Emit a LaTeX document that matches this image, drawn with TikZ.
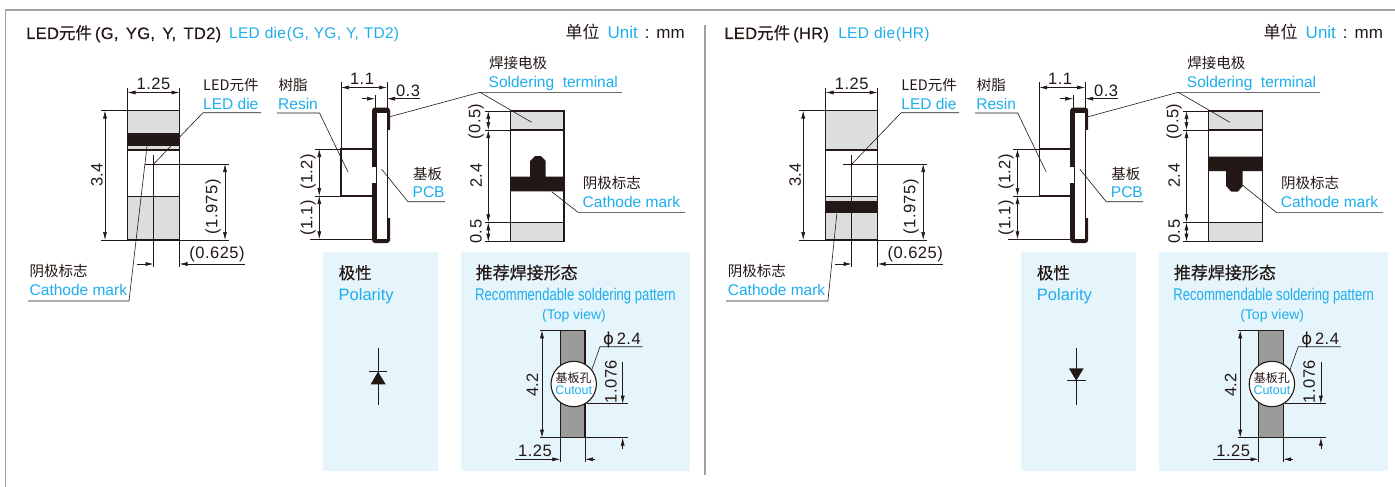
\documentclass[tikz,border=0pt]{standalone}
\usepackage{fontspec}
\usepackage{graphicx}
\usetikzlibrary{arrows.meta}
\setmainfont{Liberation Sans}
\newfontfamily\cjk{Noto Sans CJK SC}
\newfontfamily\cjkm[FakeBold=0.25]{Noto Sans CJK SC}
\newfontfamily\latm[FakeBold=0.25,LetterSpace=2,WordSpace=1.5]{Liberation Sans}
\newfontfamily\bluef[LetterSpace=1.5,WordSpace=1.1]{Liberation Sans}
\newfontfamily\numf[LetterSpace=3]{Liberation Sans}
\newfontfamily\phif{DejaVu Sans}
\definecolor{ink}{HTML}{231815}
\definecolor{sky}{HTML}{1DAEEC}
\definecolor{pale}{HTML}{E6F4FC}
\definecolor{pad}{HTML}{DCDDDD}
\definecolor{hole}{HTML}{9A9B9B}
\definecolor{rule}{HTML}{9FA0A0}
\newcommand\fsz[1]{\fontsize{#1}{#1}\selectfont}
\tikzset{
  x=1pt,y=-1pt,
  thin line/.style={draw=ink,line width=.6pt},
  body/.style={draw=ink,line width=1.1pt},
  dim/.style={thin line,{Latex[length=8pt,width=4pt]}-{Latex[length=8pt,width=4pt]}},
  dimend/.style={thin line,-{Latex[length=8pt,width=4pt]}},
  cnlab/.style={anchor=base west,inner sep=0,text=ink,font=\cjk\fsz{14.5}},
  enlab/.style={anchor=base west,inner sep=0,text=sky,font=\fsz{15.5}},
  num/.style={inner sep=0,text=ink,font=\numf\fsz{16.5}},
  vnum/.style={num,rotate=90},
}
% #1 title, #2 first-view fills, #3 third-view mark, #4 diode, #5 cathode leader of first view, #6 leader end of third view
\newcommand\ledpanel[6]{
  #1
  \node[anchor=base east,inner sep=0,text=ink,font=\fsz{17}] (unit) at (685,39) {{\cjk 单位}\hspace{8pt}\textcolor{sky}{Unit}\hspace{7pt}:\hspace{7pt}mm};
  % first view
  \fill[pad] (127.5,110.5) rectangle (179.5,150);
  \fill[pad] (127.5,196.5) rectangle (179.5,240);
  #2
  \draw[body] (127.5,110.5) rectangle (179.5,240);
  \draw[body] (127.5,150) -- (179.5,150);
  \draw[body] (127.5,196.5) -- (179.5,196.5);
  \draw[thin line] (101,110.5) -- (127.5,110.5);
  \draw[thin line] (101,240) -- (229,240);
  \draw[thin line] (145,164) -- (229,164);
  \draw[thin line] (153.5,155) -- (153.5,267);
  \draw[thin line] (179.5,240) -- (179.5,267);
  \draw[thin line] (127.5,88) -- (127.5,110.5);
  \draw[thin line] (179.5,88) -- (179.5,110.5);
  \draw[dim] (127.5,92.5) -- (179.5,92.5);
  \draw[dim] (105,110.5) -- (105,240);
  \draw[dim] (225,164) -- (225,240);
  \draw[dimend] (137,264) -- (153.5,264);
  \draw[dimend] (245,264) -- (179.5,264);
  \node[num] (w1) at (153.5,84) {1.25};
  \node[vnum] (h1) at (97,175) {3.4};
  \node[vnum] (p1) at (213,207) {(1.975)};
  \node[num] (o1) at (217,254) {(0.625)};
  \node[cnlab] (die-cn) at (203,90.7) {LED元件};
  \node[enlab] (die-en) at (203,109.3) {LED die};
  \draw[thin line] (261,112.7) -- (203,112.7) -- (153.7,164);
  \node[cnlab] (cm1-cn) at (29.5,276.7) {阴极标志};
  \node[enlab] (cm1-en) at (29.5,295) {Cathode mark};
  #5
  % side view
  \draw[body] (372,149) -- (341,149) -- (341,196) -- (372,196);
  \fill[ink,rounded corners=3pt] (372,107.5) rectangle (390,243);
  \fill[white] (377,112.5) rectangle (387,238.5);
  \fill[white] (387,130) rectangle (391,218);
  \fill[white] (371,167) rectangle (376.5,183);
  \draw[body] (387.3,130) -- (387.3,218);
  \draw[body] (376.7,167) -- (376.7,183);
  \draw[thin line] (341,82) -- (341,149);
  \draw[thin line] (387,82) -- (387,107.5);
  \draw[thin line] (375,95) -- (375,107.5);
  \draw[thin line] (315,149) -- (372,149);
  \draw[thin line] (315,196) -- (341,196);
  \draw[thin line] (310,239.3) -- (372,239.3);
  \draw[dim] (341,87.5) -- (387,87.5);
  \draw[dimend] (362,98.7) -- (375,98.7);
  \draw[dimend] (420,98.7) -- (387,98.7);
  \draw[dim] (319.3,149) -- (319.3,196);
  \draw[dim] (319.3,196) -- (319.3,239.3);
  \node[num] (w2) at (362,79) {1.1};
  \node[num] (w3) at (408,91) {0.3};
  \node[vnum] (h2) at (308,172) {(1.2)};
  \node[vnum] (h3) at (308,218) {(1.1)};
  \node[cnlab] (res-cn) at (278.5,90.7) {树脂};
  \node[enlab] (res-en) at (278,109.3) {Resin};
  \draw[thin line] (277,113) -- (319.5,113) -- (348,172);
  \node[cnlab] (pcb-cn) at (413,179.5) {基板};
  \node[enlab] (pcb-en) at (412.5,197.5) {PCB};
  \draw[thin line] (445,201.7) -- (408,201.7) -- (381.7,169.3);
  % third view
  \fill[pad] (510.3,111) rectangle (564,130);
  \fill[pad] (510.3,222.3) rectangle (564,241.7);
  #3
  \draw[body] (510.3,111) rectangle (564,241.7);
  \draw[body] (510.3,130) -- (564,130);
  \draw[body] (510.3,222.3) -- (564,222.3);
  \draw[thin line] (485,111) -- (510.3,111);
  \draw[thin line] (485,130) -- (510.3,130);
  \draw[thin line] (485,222.3) -- (510.3,222.3);
  \draw[thin line] (485,241.7) -- (510.3,241.7);
  \draw[dim] (488.3,111) -- (488.3,130);
  \draw[dim] (488.3,130) -- (488.3,222.3);
  \draw[dim] (488.3,222.3) -- (488.3,241.7);
  \node[vnum] (h4) at (476,121.7) {(0.5)};
  \node[vnum] (h5) at (476,175.7) {2.4};
  \node[vnum] (h6) at (476,231.7) {0.5};
  \node[cnlab] (sol-cn) at (489,68.5) {焊接电极};
  \node[enlab] (sol-en) at (488.5,87.5) {Soldering\ \ terminal};
  \draw[thin line] (622,92.3) -- (480,92.3) -- (390,116.7);
  \draw[thin line] (480,92.3) -- (531.7,122.3);
  \node[cnlab] (cm2-cn) at (582.7,188.5) {阴极标志};
  \node[enlab] (cm2-en) at (582.5,207.5) {Cathode mark};
  \draw[thin line] (685,212.3) -- (578,212.3) -- #6;
  % polarity
  \fill[pale] (323,252) rectangle (438,470.7);
  \node[cnlab,font=\cjkm\fsz{16.5}] (pol-cn) at (338.5,279) {极性};
  \node[enlab,font=\fsz{16.5}] (pol-en) at (338.5,300) {Polarity};
  #4
  % soldering pattern
  \fill[pale] (460.7,252) rectangle (689.7,470.7);
  \node[cnlab,font=\cjkm\fsz{17}] (rec-cn) at (475.5,279) {推荐焊接形态};
  \node[enlab,font=\fsz{17}] (rec-en) at (475,300) {\scalebox{0.772}[1]{Recommendable soldering pattern}};
  \node[anchor=base,inner sep=0,text=sky,font=\fsz{14}] (top) at (574,319) {(Top view)};
  \fill[hole] (560.3,330.3) rectangle (585,437.7);
  \draw[body] (560.3,330.3) rectangle (585,437.7);
  \draw[thin line] (540,330.3) -- (560.3,330.3);
  \draw[thin line] (540,437.7) -- (628,437.7);
  \draw[thin line] (586.7,403.7) -- (628,403.7);
  \draw[thin line] (560.3,437.7) -- (560.3,461.7);
  \draw[thin line] (585,437.7) -- (585,461.7);
  \draw[dim] (542,330.3) -- (542,437.7);
  \draw[dimend] (515,459.3) -- (560.3,459.3);
  \draw[dimend] (595,459.3) -- (585,459.3);
  \draw[dimend] (622.7,362.3) -- (622.7,403.7);
  \draw[dimend] (622.7,449) -- (622.7,437.7);
  \draw[thin line] (642.7,346.7) -- (600,346.7) -- (591.7,370);
  \node[circle,draw=ink,fill=white,line width=1.1pt,minimum size=45.4pt,inner sep=0] (hole) at (573.7,384) {};
  \node[inner sep=0,text=ink,font=\cjk\fsz{12}] (hole-cn) at (573.7,378.3) {基板孔};
  \node[inner sep=0,text=sky,font=\fsz{12.5}] (hole-en) at (573.7,390.5) {Cutout};
  \node[vnum] (h7) at (532.3,385) {4.2};
  \node[vnum] (h8) at (611,381.7) {1.076};
  \node[num] (w4) at (535,451) {1.25};
  \node[num,anchor=base west] (phi) at (603,344) {{\phif ϕ}\,2.4};
}
\begin{document}
\begin{tikzpicture}
\useasboundingbox (0,0) rectangle (1395,487);
\fill[white] (0,0) rectangle (1395,487);
\draw[rule,line width=1.2pt] (5.5,487) -- (5.5,10) -- (1395,10);
\draw[rule,line width=1.2pt] (705,25) -- (705,475);
\begin{scope}[name prefix=L-]
\ledpanel
  {\node[anchor=base west,inner sep=0,text=ink,font=\latm\fsz{16.5}] (title) at (26,39) {LED{\cjkm 元件}\hspace{3pt}(G, YG, Y, TD2)};
   \node[anchor=base west,inner sep=0,text=sky,font=\bluef\fsz{15.5}] (title-en) at (229,39) {LED die\hspace{1pt}(G, YG, Y, TD2)};}
  {\fill[ink] (127.5,133) rectangle (179.5,146);}
  {\fill[ink] (510.3,176.7) -- (530,176.7) -- (530,161) -- (535,156) -- (541,156) -- (545.7,161) -- (545.7,176.7) -- (564,176.7) -- (564,191.3) -- (510.3,191.3) -- cycle;}
  {\draw[ink,line width=.9pt] (378,347.7) -- (378,405);
   \draw[ink,line width=.9pt] (369,371) -- (387,371);
   \fill[ink] (378,371.7) -- (385.7,384.3) -- (370.7,384.3) -- cycle;}
  {\draw[thin line] (28,301) -- (129,301) -- (147,146);}
  {(551.7,191.7)}
\end{scope}
\begin{scope}[xshift=698.2pt,name prefix=R-]
\ledpanel
  {\node[anchor=base west,inner sep=0,text=ink,font=\latm\fsz{16.5}] (title) at (26,39) {LED{\cjkm 元件}\hspace{3pt}(HR)};
   \node[anchor=base west,inner sep=0,text=sky,font=\bluef\fsz{15.5}] (title-en) at (140,39) {LED die\hspace{1pt}(HR)};}
  {\fill[ink] (127.5,200.7) rectangle (179.5,212.7);}
  {\fill[ink] (510.3,156.7) -- (564,156.7) -- (564,171) -- (544.5,171) -- (544.5,186) -- (539.5,191.7) -- (533,191.7) -- (528,186) -- (528,171) -- (510.3,171) -- cycle;}
  {\draw[ink,line width=.9pt] (378,347.7) -- (378,405);
   \draw[ink,line width=.9pt] (369,380.7) -- (387.5,380.7);
   \fill[ink] (378,380.7) -- (370.7,368.3) -- (385.5,368.3) -- cycle;}
  {\draw[thin line] (28,301) -- (129.7,301) -- (138.7,213.3);}
  {(544,185)}
\end{scope}
\end{tikzpicture}
\end{document}
